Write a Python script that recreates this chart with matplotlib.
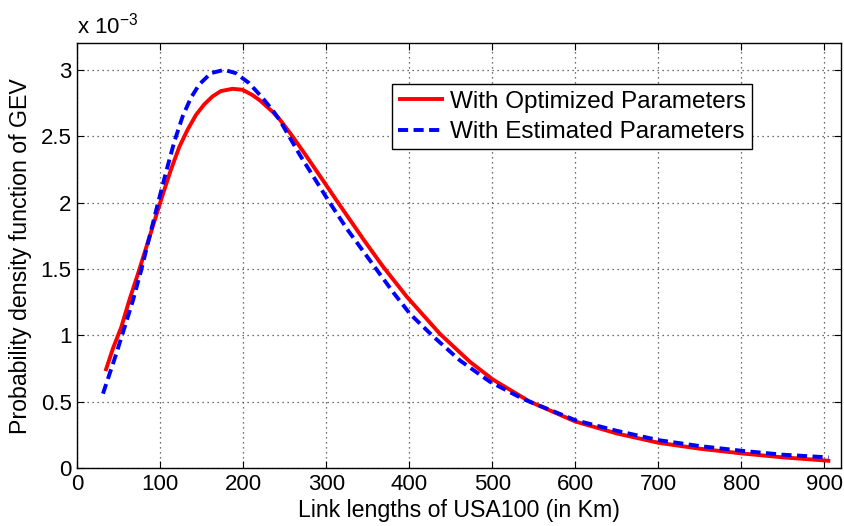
import matplotlib
matplotlib.use("Agg")
import matplotlib.pyplot as plt
from matplotlib.ticker import FuncFormatter

plt.rcParams['font.family'] = ['Liberation Sans', 'DejaVu Sans']
plt.rcParams['mathtext.default'] = 'regular'

# link length (km) and GEV pdf values (in units of 1e-3)
x_opt = [34, 43, 53, 63, 73, 83, 93, 103, 113, 123, 133, 143, 153, 163, 173,
         187, 199, 211, 220, 236, 244, 258, 276, 300, 313, 345, 368, 397, 437,
         473, 501, 545, 600, 650, 700, 750, 800, 850, 900, 907]
y_opt = [0.73, 0.90, 1.06, 1.27, 1.46, 1.66, 1.86, 2.06, 2.25, 2.42, 2.55, 2.66,
         2.74, 2.80, 2.84, 2.857, 2.85, 2.81, 2.77, 2.68, 2.625, 2.51, 2.35, 2.13,
         2.01, 1.72, 1.52, 1.29, 1.01, 0.80, 0.665, 0.50, 0.35, 0.26, 0.19, 0.145,
         0.11, 0.08, 0.057, 0.053]

x_est = [31, 47, 57, 67, 77, 87, 97, 107, 117, 127, 137, 147, 161, 177, 191, 207,
         223, 236, 244, 268, 292, 304, 325, 353, 381, 401, 429, 461, 497, 537,
         600, 650, 700, 750, 800, 850, 905]
y_est = [0.56, 0.86, 1.06, 1.26, 1.49, 1.74, 1.99, 2.23, 2.46, 2.65, 2.79, 2.89,
         2.975, 3.00, 2.975, 2.90, 2.79, 2.69, 2.62, 2.36, 2.12, 2.00, 1.80, 1.56,
         1.32, 1.16, 0.99, 0.81, 0.65, 0.52, 0.36, 0.28, 0.21, 0.165, 0.13, 0.10,
         0.08]

labels = ["With Optimized Parameters", "With Estimated Parameters"]

fig = plt.figure(figsize=(8.45, 5.26), dpi=100)
ax = fig.add_axes([0.0914, 0.1103, 0.9039, 0.8074])

ax.plot(x_opt, [v * 1e-3 for v in y_opt], color='red', lw=2.8,
        solid_capstyle='butt', label=labels[0])
ax.plot(x_est, [v * 1e-3 for v in y_est], color='blue', lw=2.8,
        linestyle=(0, (2.6, 1.4)), label=labels[1])

ax.set_xlim(0, 920)
ax.set_ylim(0, 3.2e-3)
ax.set_xticks(range(0, 901, 100))
ax.set_yticks([i * 0.5e-3 for i in range(7)])
ax.yaxis.set_major_formatter(FuncFormatter(lambda v, p: '%g' % round(v * 1e3, 3)))

ax.tick_params(direction='in', length=5, width=0.8, labelsize=16,
               top=True, right=True, pad=4)
for s in ax.spines.values():
    s.set_linewidth(1.0)
ax.grid(True, linestyle=(0, (1, 3)), color='0.25', lw=0.9)

ax.set_xlabel("Link lengths of USA100 (in Km)", fontsize=16.7, labelpad=3)
ax.set_ylabel("Probability density function of GEV", fontsize=16.7, labelpad=6)
ax.text(0.0, 1.012, "x 10$^{-3}$", transform=ax.transAxes, fontsize=16,
        ha='left', va='bottom')

leg = ax.legend(loc='upper right', bbox_to_anchor=(0.884, 0.903), fontsize=17.5,
                fancybox=False, framealpha=1, edgecolor='black',
                handlelength=1.9, handletextpad=0.25, borderpad=0.25,
                labelspacing=0.35, borderaxespad=0)
leg.get_frame().set_linewidth(1.0)

fig.savefig("out.png", dpi=100)
